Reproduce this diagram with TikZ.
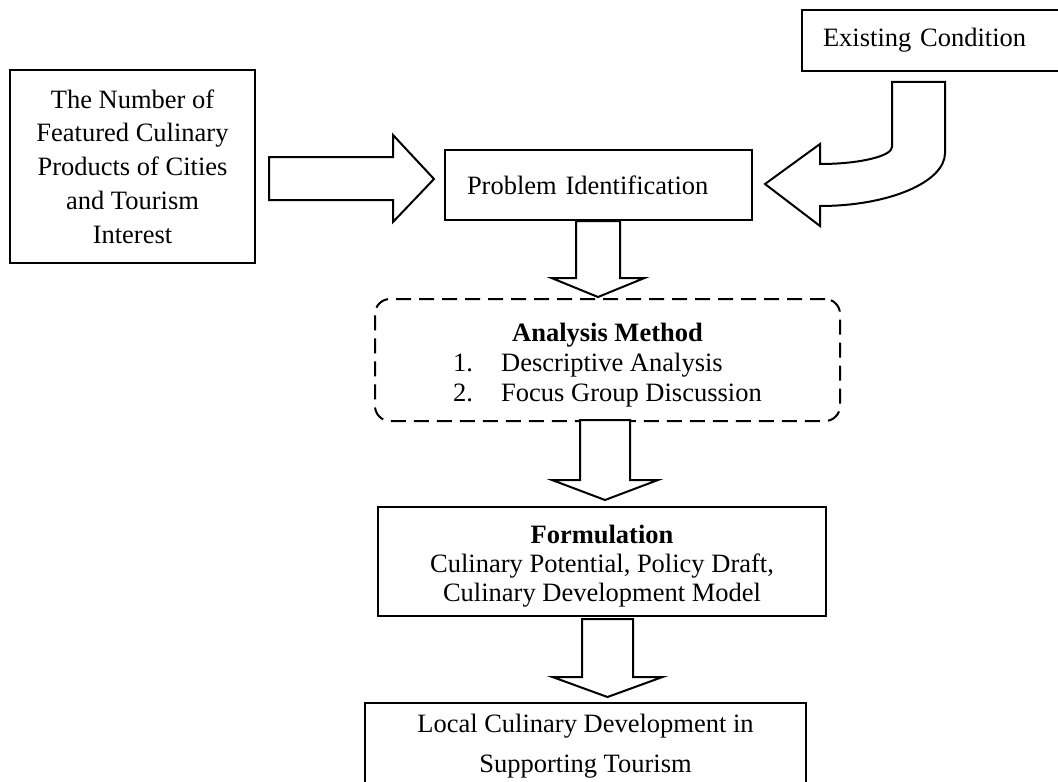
\documentclass[tikz,border=0pt]{standalone}
\usepackage{fontspec}
\setmainfont{Liberation Serif}

\begin{document}
\begin{tikzpicture}[x=0.5pt,y=-0.5pt,line width=1pt,
  box/.style={draw,rectangle,inner sep=0pt,font=\fontsize{13.25}{16.9}\selectfont},
  blk/.style={draw,fill=white,line join=miter}]
\useasboundingbox (0,0) rectangle (1058,781);
\clip (0,0) rectangle (1058,781);
\node[box,minimum width=122.5pt,minimum height=96.5pt,align=center] (num) at (132.5,166.5) {The Number of\\Featured Culinary\\Products of Cities\\and Tourism\\Interest};
\node[box,anchor=west,minimum height=30.5pt,inner xsep=10.5pt,text width=113.5pt,align=left] (exist) at (801,40.5) {Existing Condition};
\node[box,minimum height=35pt,inner xsep=11pt,text width=131.5pt,align=left] (prob) at (598.5,185) {Problem Identification};
\node[box,minimum width=232.5pt,minimum height=61pt,rounded corners=7.5pt,dash pattern=on 7.5pt off 4pt,font=\fontsize{13.25}{15}\selectfont] (anal) at (607.5,360)
  {\raisebox{0pt}[\dimexpr\height+5pt]{\begin{tabular}{@{}l@{}}\multicolumn{1}{@{}c@{}}{\textbf{Analysis Method}}\\ \makebox[24pt][l]{1.}Descriptive Analysis\\ \makebox[24pt][l]{2.}Focus Group Discussion\end{tabular}}};
\node[box,minimum width=224pt,minimum height=54.5pt,font=\fontsize{13.25}{14.5}\selectfont] (form) at (602,561.5)
  {\raisebox{0pt}[\dimexpr\height+5pt]{\begin{tabular}{@{}c@{}}\textbf{Formulation}\\Culinary Potential, Policy Draft,\\Culinary Development Model\end{tabular}}};
\node[box,minimum width=220.5pt,minimum height=43.5pt,align=center,font=\fontsize{13.25}{20}\selectfont] (loc) at (585.5,746.5) {Local Culinary Development in\\Supporting Tourism};
\draw[blk] (269,157) -- (393,157) -- (393,135) -- (434,179) -- (393,222) -- (393,200) -- (269,200) -- cycle;
\draw[blk] (892,82) -- (945,82) -- (945,153) .. controls (945,182) and (889,206) .. (820,206) -- (820,226) -- (765,184) -- (820,144) -- (820,164) .. controls (860,164) and (892,156) .. (892,147) -- cycle;
\foreach \cx/\ya/\yb/\yc/\s/\h in {598/221/278/297/22/46.5,605/420/480/500/25/53,607.5/619/677/697/25.5/55}
  \draw[blk] (\cx-\s,\ya) -- (\cx+\s,\ya) -- (\cx+\s,\yb) -- (\cx+\h,\yb) -- (\cx,\yc) -- (\cx-\h,\yb) -- (\cx-\s,\yb) -- cycle;
\end{tikzpicture}
\end{document}
